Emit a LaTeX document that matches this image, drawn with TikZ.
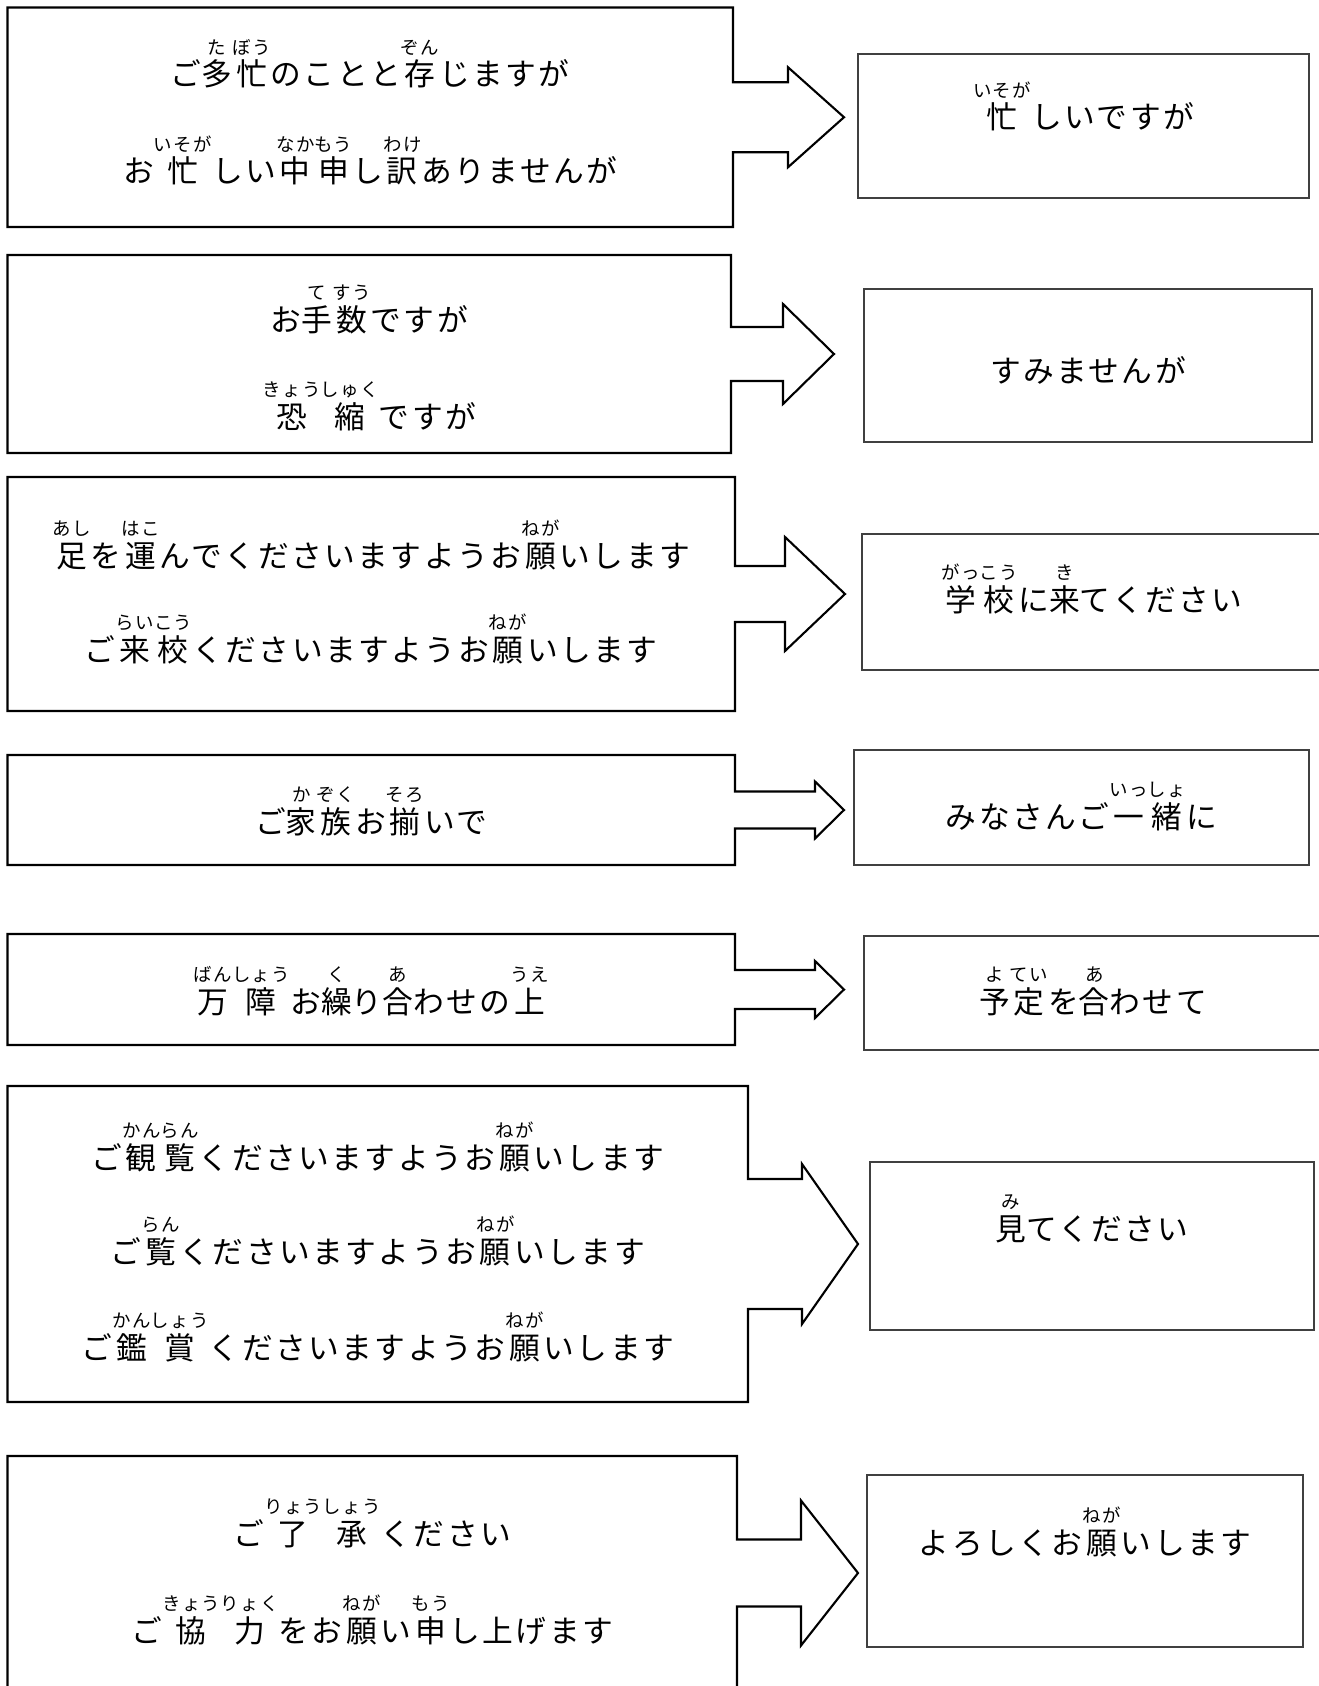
\documentclass[tikz,border=0pt]{standalone}
\usepackage{fontspec}
\setmainfont{Noto Sans CJK JP}[LetterSpace=8]
\usetikzlibrary{calc}
\newcommand{\pxu}{0.02cm}
\newcommand{\rubySize}{\fontsize{10.5}{11}\selectfont}
\newcommand{\mainSize}{\fontsize{17.5}{20}\selectfont}
\newlength{\rubyRaise}
\setlength{\rubyRaise}{18pt}
%% Kanji with its reading set above it.
\newcommand{\rb}[2]{%%
  \leavevmode\setbox0\hbox{#1}\setbox2\hbox{\rubySize #2}%%
  \ifdim\wd2>\wd0 \dimen0=\wd2 \else \dimen0=\wd0 \fi
  \hbox to\dimen0{\hss\rlap{\raise\rubyRaise\hbox to\wd0{\hss\box2\hss}}\box0\hss}%%
}
%% Outline of a left box with its block arrow.
%% #1 node, #2 shaft half, #3 shaft length, #4 head half, #5 head length
\newcommand{\blockArrow}[5]{%%
  \draw[boxStyle] (#1.north west) -- (#1.north east)
    -- ($(#1.east)+(0,-#2)$) -- ++(#3,0) -- ++(0,#2-#4)
    -- ($(#1.east)+(#3+#5,0)$)
    -- ($(#1.east)+(#3,#4)$) -- ++(0,#2-#4)
    -- ($(#1.east)+(0,#2)$)
    -- (#1.south east) -- (#1.south west) -- cycle;
}
\begin{document}
\begin{tikzpicture}[x=0.02cm,y=-0.02cm,%%
  boxStyle/.style={draw=black,line width=1.2pt,line join=miter},%%
  frameStyle/.style={inner sep=0pt,outer sep=0pt},%%
  rightStyle/.style={draw=black!75,line width=0.7pt,inner sep=0pt,outer sep=0pt},%%
  lineStyle/.style={anchor=base,inner sep=0pt,font=\mainSize}
]
\useasboundingbox (0,0) rectangle (1318,1686);
%%
%% The left boxes.
\node[frameStyle,minimum width=725.5*\pxu,minimum height=219.5*\pxu] (l1) at (370.25,117.25) {};
\node[frameStyle,minimum width=723.5*\pxu,minimum height=198*\pxu] (l2) at (369.25,354) {};
\node[frameStyle,minimum width=727.5*\pxu,minimum height=234*\pxu] (l3) at (371.25,594) {};
\node[frameStyle,minimum width=727.5*\pxu,minimum height=110*\pxu] (l4) at (371.25,810) {};
\node[frameStyle,minimum width=727.5*\pxu,minimum height=111*\pxu] (l5) at (371.25,989.5) {};
\node[frameStyle,minimum width=740.5*\pxu,minimum height=316*\pxu] (l6) at (377.75,1244) {};
\node[frameStyle,minimum width=729.5*\pxu,minimum height=234*\pxu] (l7) at (372.25,1573) {};
\blockArrow{l1}{35}{55}{50}{56}
\blockArrow{l2}{27}{52}{50}{51}
\blockArrow{l3}{28}{50}{57}{60}
\blockArrow{l4}{18.5}{80}{28.5}{29}
\blockArrow{l5}{19.5}{80}{28.5}{29}
\blockArrow{l6}{65}{54}{80}{56}
\blockArrow{l7}{33.5}{64}{72.5}{57}
%%
%% The right boxes.
\node[rightStyle,minimum width=451*\pxu,minimum height=144*\pxu] (r1) at (1083.5,126) {};
\node[rightStyle,minimum width=448*\pxu,minimum height=153*\pxu] (r2) at (1088,365.5) {};
\node[rightStyle,minimum width=460*\pxu,minimum height=136*\pxu] (r3) at (1092,602) {};
\node[rightStyle,minimum width=455*\pxu,minimum height=115*\pxu] (r4) at (1081.5,807.5) {};
\node[rightStyle,minimum width=458*\pxu,minimum height=114*\pxu] (r5) at (1093,993) {};
\node[rightStyle,minimum width=444*\pxu,minimum height=168*\pxu] (r6) at (1092,1246) {};
\node[rightStyle,minimum width=436*\pxu,minimum height=172*\pxu] (r7) at (1085,1561) {};
%%
%% The polite phrases.
\node[lineStyle] (l1a) at (370.25,86) {ご\rb{多}{た}\rb{忙}{ぼう}のことと\rb{存}{ぞん}じますが};
\node[lineStyle] (l1b) at (370.25,183) {お\rb{忙}{いそが}しい\rb{中}{なか}\rb{申}{もう}し\rb{訳}{わけ}ありませんが};
\node[lineStyle] (l2a) at (369.25,331) {お\rb{手}{て}\rb{数}{すう}ですが};
\node[lineStyle] (l2b) at (369.25,428) {\rb{恐}{きょう}\rb{縮}{しゅく}ですが};
\node[lineStyle] (l3a) at (371.25,567) {\rb{足}{あし}を\rb{運}{はこ}んでくださいますようお\rb{願}{ねが}いします};
\node[lineStyle] (l3b) at (371.25,661) {ご\rb{来}{らい}\rb{校}{こう}くださいますようお\rb{願}{ねが}いします};
\node[lineStyle] (l4a) at (371.25,833) {ご\rb{家}{か}\rb{族}{ぞく}お\rb{揃}{そろ}いで};
\node[lineStyle] (l5a) at (371.25,1013) {\rb{万}{ばん}\rb{障}{しょう}お\rb{繰}{く}り\rb{合}{あ}わせの\rb{上}{うえ}};
\node[lineStyle] (l6a) at (377.75,1169) {ご\rb{観}{かん}\rb{覧}{らん}くださいますようお\rb{願}{ねが}いします};
\node[lineStyle] (l6b) at (377.75,1263) {ご\rb{覧}{らん}くださいますようお\rb{願}{ねが}いします};
\node[lineStyle] (l6c) at (377.75,1359) {ご\rb{鑑}{かん}\rb{賞}{しょう}くださいますようお\rb{願}{ねが}いします};
\node[lineStyle] (l7a) at (372.25,1545) {ご\rb{了}{りょう}\rb{承}{しょう}ください};
\node[lineStyle] (l7b) at (372.25,1642) {ご\rb{協}{きょう}\rb{力}{りょく}をお\rb{願}{ねが}い\rb{申}{もう}し上げます};
%%
%% The plain phrases.
\node[lineStyle] (r1a) at (1083.5,129) {\rb{忙}{いそが}しいですが};
\node[lineStyle] (r2a) at (1088,382) {すみませんが};
\node[lineStyle] (r3a) at (1092,611) {\rb{学}{がっ}\rb{校}{こう}に\rb{来}{き}てください};
\node[lineStyle] (r4a) at (1081.5,828) {みなさんご\rb{一}{いっ}\rb{緒}{しょ}に};
\node[lineStyle] (r5a) at (1093,1013) {\rb{予}{よ}\rb{定}{てい}を\rb{合}{あ}わせて};
\node[lineStyle] (r6a) at (1092,1240) {\rb{見}{み}てください};
\node[lineStyle] (r7a) at (1085,1554) {よろしくお\rb{願}{ねが}いします};
\end{tikzpicture}
\end{document}
